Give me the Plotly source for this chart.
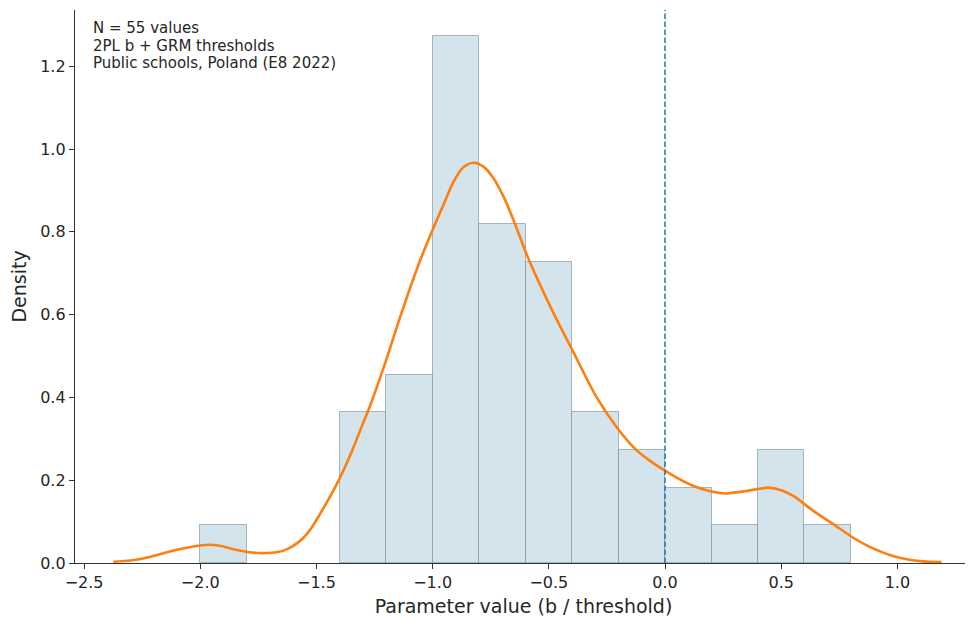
import plotly.graph_objects as go

# Histogram (density) – bin edges and densities
bin_edges = [-2.0, -1.8, -1.6, -1.4, -1.2, -1.0, -0.8, -0.6, -0.4, -0.2, 0.0, 0.2, 0.4, 0.6, 0.8]
densities = [0.091, 0.0, 0.0, 0.364, 0.455, 1.273, 0.818, 0.727, 0.364, 0.273, 0.182, 0.091, 0.273, 0.091]

# KDE curve points
kde_x = [-2.374, -2.302, -2.236, -2.173, -2.101, -2.03, -1.965, -1.91, -1.857, -1.79, -1.721,
         -1.67, -1.628, -1.59, -1.556, -1.52, -1.485,
         -1.45, -1.413, -1.377, -1.341, -1.305, -1.269, -1.2, -1.14, -1.054, -1.0, -0.95, -0.911,
         -0.87, -0.825, -0.78, -0.739, -0.695, -0.653,
         -0.595, -0.54, -0.481, -0.395, -0.294, -0.208, -0.122, -0.06, 0.0, 0.06, 0.122, 0.19,
         0.258, 0.351, 0.445, 0.5, 0.552, 0.638, 0.724, 0.81, 0.87, 0.925, 0.98, 1.04, 1.11, 1.19]
kde_y = [0.003, 0.006, 0.012, 0.021, 0.032, 0.04, 0.044, 0.041, 0.033, 0.026, 0.024,
         0.026, 0.033, 0.045, 0.061, 0.086, 0.118,
         0.152, 0.19, 0.232, 0.279, 0.33, 0.38, 0.49, 0.594, 0.731, 0.805, 0.87, 0.92,
         0.955, 0.967, 0.957, 0.93, 0.885, 0.83,
         0.745, 0.675, 0.605, 0.51, 0.40, 0.328, 0.272, 0.245, 0.223, 0.203, 0.186, 0.174,
         0.168, 0.174, 0.182, 0.176, 0.162, 0.126, 0.094, 0.061, 0.042, 0.028, 0.017, 0.009, 0.004, 0.002]

ref_line_x = 0.0
x_ticks = [-2.5, -2.0, -1.5, -1.0, -0.5, 0.0, 0.5, 1.0]
y_ticks = [0.0, 0.2, 0.4, 0.6, 0.8, 1.0, 1.2]
info_lines = ["N = 55 values", "2PL b + GRM thresholds", "Public schools, Poland (E8 2022)"]

centers = [(bin_edges[i] + bin_edges[i + 1]) / 2 for i in range(len(densities))]
widths = [bin_edges[i + 1] - bin_edges[i] for i in range(len(densities))]
edge_w = [1 if d > 0 else 0 for d in densities]

FONT = "DejaVu Sans, Verdana, sans-serif"
TXT = "#262626"

fig = go.Figure()
fig.add_trace(go.Bar(
    x=centers, y=densities, width=widths,
    marker=dict(color="rgb(212,228,237)",
                line=dict(color="rgba(120,138,152,0.6)", width=edge_w)),
    hoverinfo="skip", showlegend=False,
))
fig.add_trace(go.Scatter(
    x=kde_x, y=kde_y, mode="lines",
    line=dict(color="#ff7f0e", width=2.6, shape="spline", smoothing=0.8),
    showlegend=False,
))

fig.add_shape(type="line", xref="x", yref="paper", x0=ref_line_x, x1=ref_line_x, y0=0, y1=1,
              line=dict(color="#1f77b4", width=1.5, dash="5.5px,2.5px"), layer="above")

# The page body has an 8px default margin, so the figure is sized/placed to compensate
W, H = 965, 610
ml, mr, mt, mb = 67, 1, 2, 55
ph = H - mt - mb
for i, t in enumerate(info_lines):
    py = 20.3 + i * 17.6
    fig.add_annotation(xref="paper", yref="paper", x=(84 - ml) / (W - ml - mr),
                       y=1 - (py - mt) / ph, xanchor="left", yanchor="middle",
                       text=t, showarrow=False, align="left", borderpad=0,
                       font=dict(family=FONT, size=15, color=TXT))

fig.update_layout(
    width=W, height=H, margin=dict(l=ml, r=mr, t=mt, b=mb, autoexpand=False),
    plot_bgcolor="white", paper_bgcolor="white", bargap=0,
    font=dict(family=FONT, color=TXT),
    xaxis=dict(range=[-2.539, 1.321], tickvals=x_ticks, tickformat=".1f",
               showgrid=False, zeroline=False, showline=True, linecolor="#333",
               linewidth=1.3, ticks="outside", ticklen=5, tickwidth=1.2, tickcolor="#333",
               automargin=False,
               tickfont=dict(size=16, family=FONT, color=TXT),
               title=dict(text="Parameter value (b / threshold)", standoff=8,
                          font=dict(size=19, family=FONT, color=TXT))),
    yaxis=dict(range=[0, 1.336], tickvals=y_ticks, tickformat=".1f",
               showgrid=False, zeroline=False, showline=True, linecolor="#333",
               linewidth=1.3, ticks="outside", ticklen=5, tickwidth=1.2, tickcolor="#333",
               automargin=False,
               tickfont=dict(size=16, family=FONT, color=TXT),
               title=dict(text="Density", standoff=19,
                          font=dict(size=19, family=FONT, color=TXT))),
)

fig.write_html("out.html")
